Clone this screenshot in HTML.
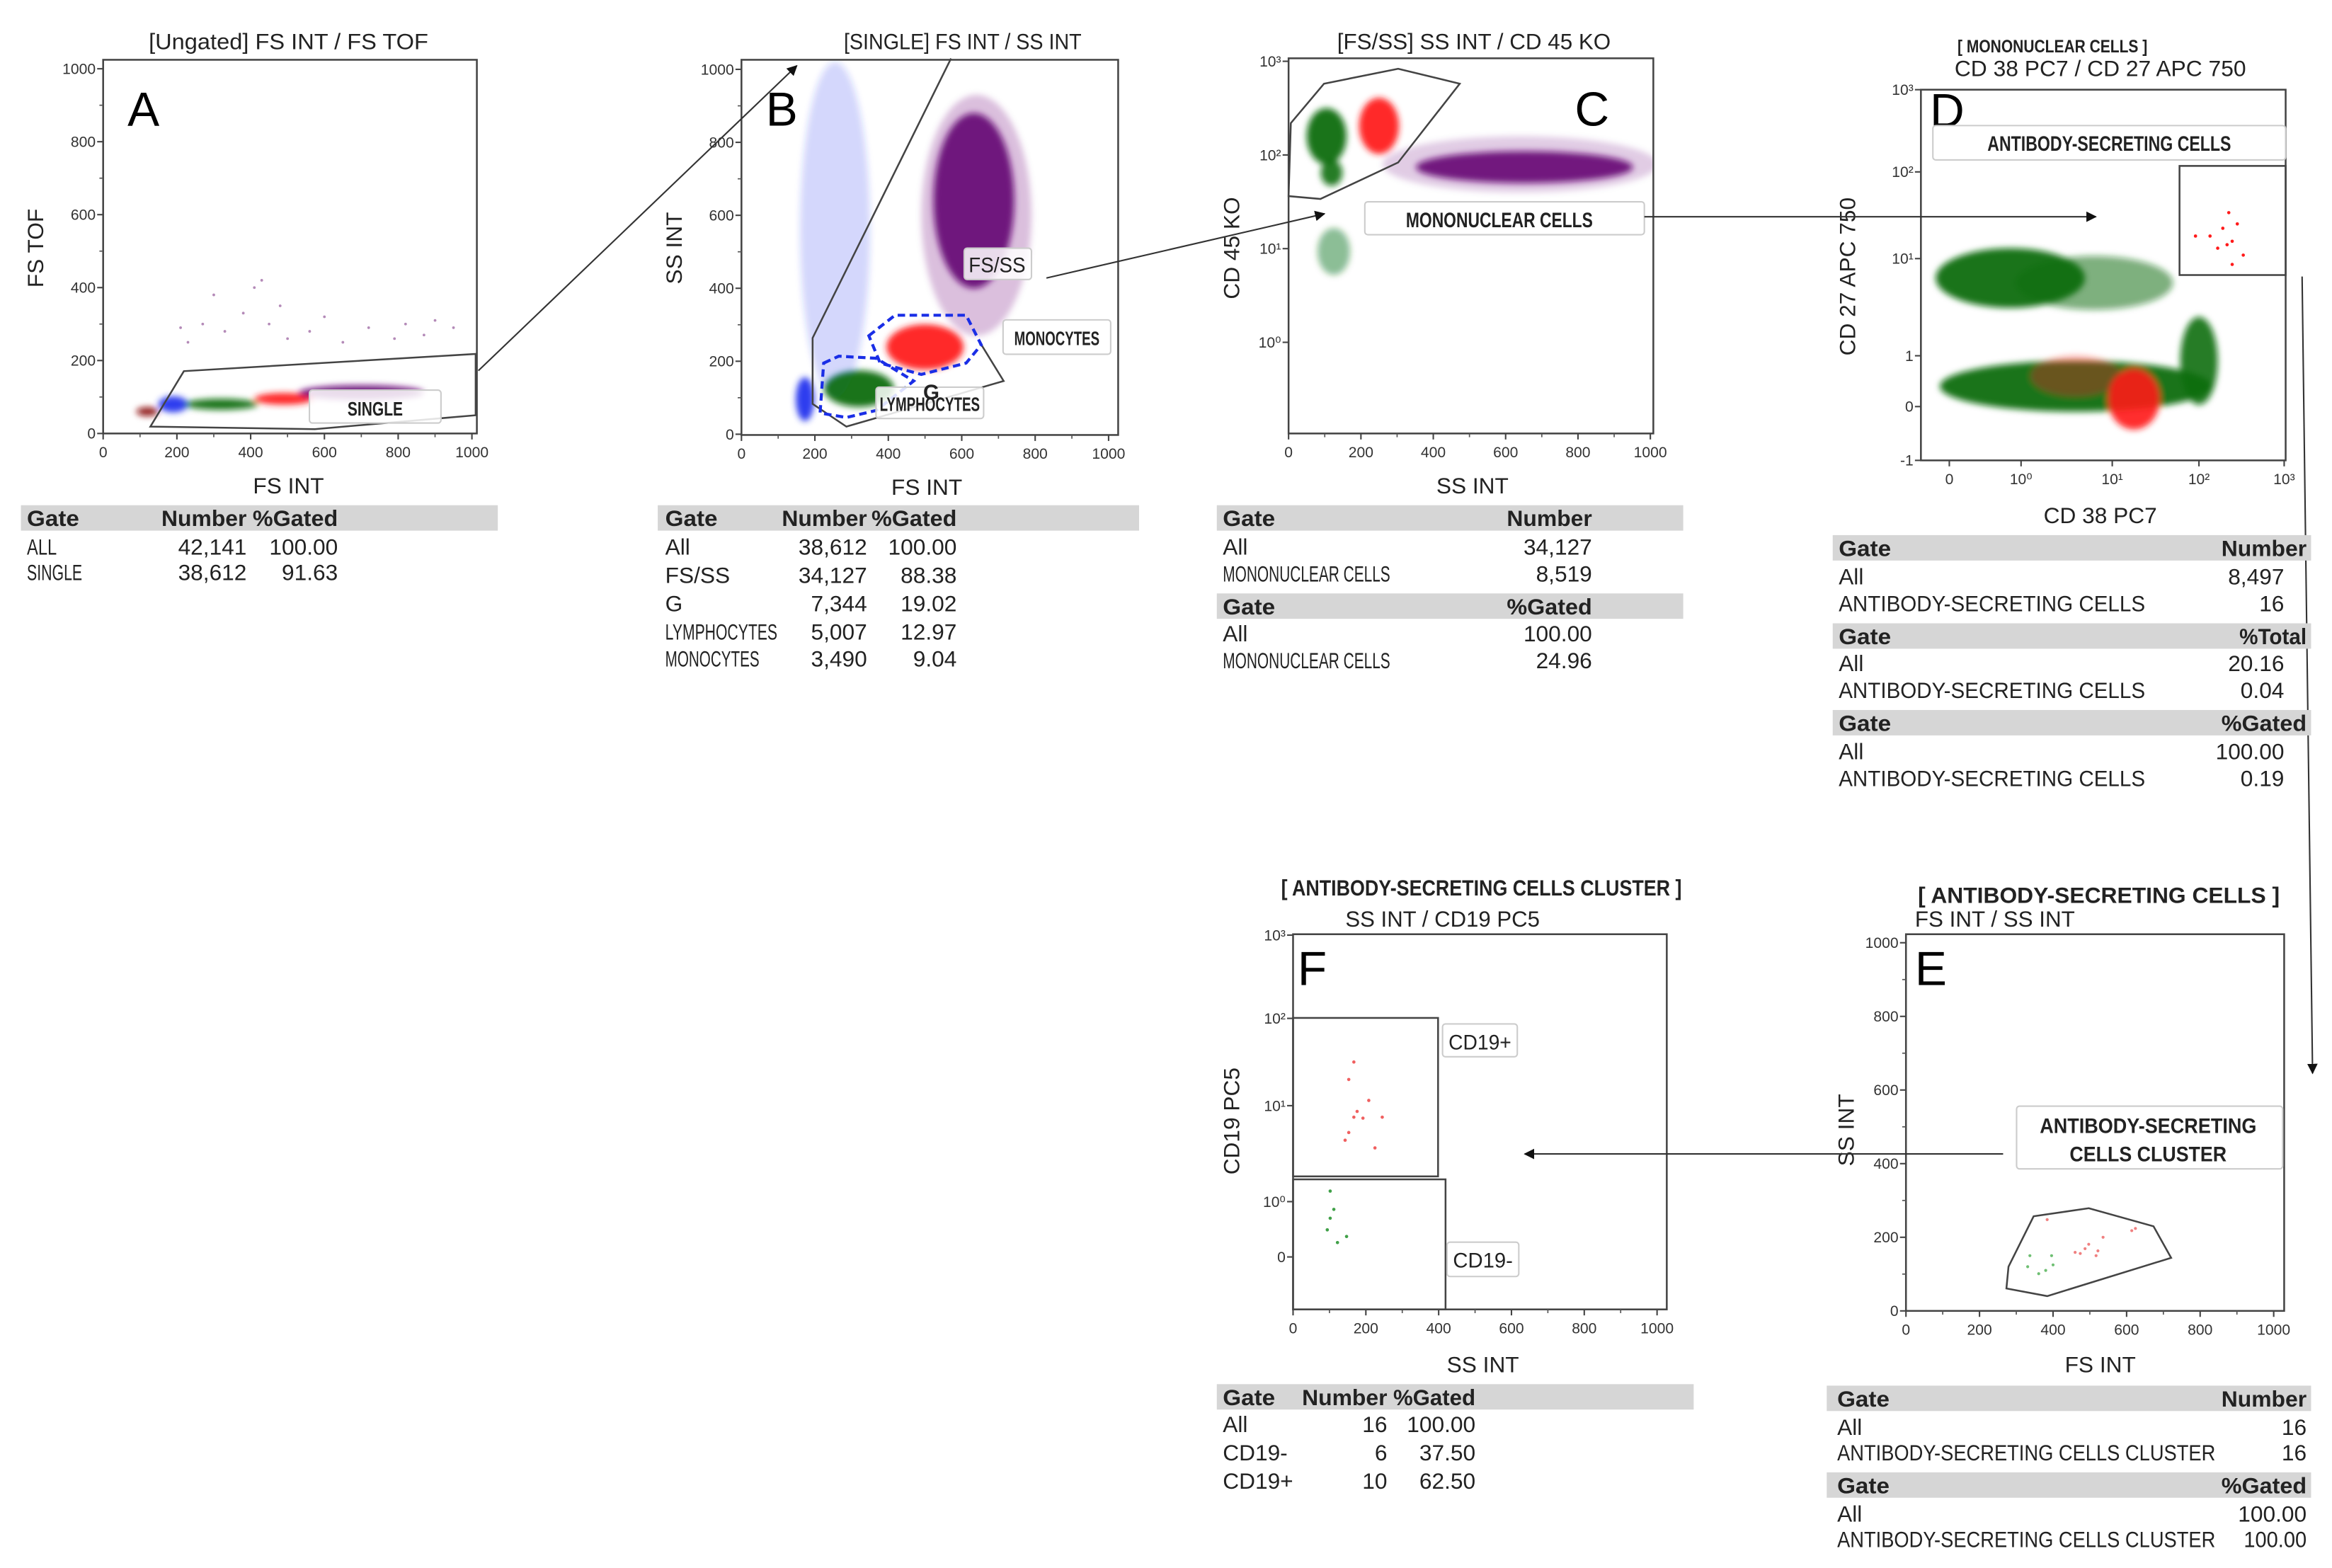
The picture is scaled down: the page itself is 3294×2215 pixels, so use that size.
<!DOCTYPE html>
<html><head><meta charset="utf-8"><title>Flow cytometry gating</title>
<style>
html,body{margin:0;padding:0;background:#fff;}
svg{display:block;}
text{font-family:"Liberation Sans Narrow","Liberation Sans",sans-serif;fill:#222;}
.t{font-size:15px;}
.h{font-size:15px;font-weight:bold;}
.tk{font-size:10px;fill:#333;}
.ax{font-size:15px;}
.ttl{font-size:15px;}
.let{font-size:32px;fill:#000;}
.lbl{font-size:13px;font-weight:bold;}
</style></head>
<body>
<svg id="fig" width="3294" height="2215" viewBox="0 0 1560 1049" preserveAspectRatio="none" xmlns="http://www.w3.org/2000/svg">
<defs>
<filter id="blur" x="-50%" y="-50%" width="200%" height="200%"><feGaussianBlur stdDeviation="2.2"/></filter>
<marker id="arr" viewBox="0 0 10 10" refX="9" refY="5" markerWidth="7" markerHeight="7" orient="auto"><path d="M0,0L10,5L0,10z" fill="#111"/></marker>
<clipPath id="clipA"><rect x="69" y="40" width="250" height="250"/></clipPath>
<clipPath id="clipB"><rect x="496" y="40" width="252" height="251"/></clipPath>
<clipPath id="clipC"><rect x="862" y="39" width="244" height="251"/></clipPath>
<clipPath id="clipD"><rect x="1285" y="60" width="244" height="248"/></clipPath>
<clipPath id="clipE"><rect x="1275" y="625" width="253" height="252"/></clipPath>
<clipPath id="clipF"><rect x="865" y="625" width="250" height="251"/></clipPath>
</defs>
<g id="marks"></g>

<g fill="none" stroke="#444" stroke-width="1.2">
<rect x="69" y="40" width="250" height="250"/>
<rect x="496" y="40" width="252" height="251"/>
<rect x="862" y="39" width="244" height="251"/>
<rect x="1285" y="60" width="244" height="248"/>
<rect x="1275" y="625" width="253" height="252"/>
<rect x="865" y="625" width="250" height="251"/>
</g>
<g id="axes"></g>
<g id="gates"></g>

<text class="ttl" x="193" y="33" text-anchor="middle" textLength="187" lengthAdjust="spacingAndGlyphs">[Ungated] FS INT / FS TOF</text>
<text class="ttl" x="644" y="33" text-anchor="middle" textLength="159" lengthAdjust="spacingAndGlyphs">[SINGLE] FS INT / SS INT</text>
<text class="ttl" x="986" y="33" text-anchor="middle" textLength="183" lengthAdjust="spacingAndGlyphs">[FS/SS] SS INT / CD 45 KO</text>
<text class="ttl" x="1373" y="35" text-anchor="middle" textLength="127" lengthAdjust="spacingAndGlyphs" style="font-size:12px;font-weight:bold">[ MONONUCLEAR CELLS ]</text>
<text class="ttl" x="1405" y="51" text-anchor="middle" textLength="195" lengthAdjust="spacingAndGlyphs">CD 38 PC7 / CD 27 APC 750</text>
<text class="ttl" x="1283" y="604" textLength="242" lengthAdjust="spacingAndGlyphs" style="font-weight:bold">[ ANTIBODY-SECRETING CELLS ]</text>
<text class="ttl" x="1281" y="620" textLength="107" lengthAdjust="spacingAndGlyphs">FS INT / SS INT</text>
<text class="ttl" x="991" y="599" text-anchor="middle" textLength="268" lengthAdjust="spacingAndGlyphs" style="font-weight:bold">[ ANTIBODY-SECRETING CELLS CLUSTER ]</text>
<text class="ttl" x="965" y="620" text-anchor="middle" textLength="130" lengthAdjust="spacingAndGlyphs">SS INT / CD19 PC5</text>

<text class="ax" x="193" y="330" text-anchor="middle">FS INT</text>
<text class="ax" transform="translate(29,166) rotate(-90)" text-anchor="middle">FS TOF</text>
<text class="ax" x="620" y="331" text-anchor="middle">FS INT</text>
<text class="ax" transform="translate(456,166) rotate(-90)" text-anchor="middle">SS INT</text>
<text class="ax" x="985" y="330" text-anchor="middle">SS INT</text>
<text class="ax" transform="translate(829,166) rotate(-90)" text-anchor="middle">CD 45 KO</text>
<text class="ax" x="1405" y="350" text-anchor="middle">CD 38 PC7</text>
<text class="ax" transform="translate(1241,185) rotate(-90)" text-anchor="middle">CD 27 APC 750</text>
<text class="ax" x="1405" y="918" text-anchor="middle">FS INT</text>
<text class="ax" transform="translate(1240,756) rotate(-90)" text-anchor="middle">SS INT</text>
<text class="ax" x="992" y="918" text-anchor="middle">SS INT</text>
<text class="ax" transform="translate(829,750) rotate(-90)" text-anchor="middle">CD19 PC5</text>

<text class="let" x="96" y="84" text-anchor="middle">A</text>
<text class="let" x="523" y="84" text-anchor="middle">B</text>
<text class="let" x="1065" y="84" text-anchor="middle">C</text>
<text class="let" x="1291" y="85">D</text>
<text class="let" x="1281" y="659">E</text>
<text class="let" x="868" y="659">F</text>

<g>
<rect x="207" y="261" width="88" height="22" fill="#fff" fill-opacity="0.85" stroke="#ccc" rx="2"/>
<text class="lbl" x="251" y="278" text-anchor="middle" textLength="37" lengthAdjust="spacingAndGlyphs">SINGLE</text>
<rect x="645" y="166" width="45" height="21" fill="#fff" fill-opacity="0.85" stroke="#ccc" rx="2"/>
<text class="lbl" x="667" y="182" text-anchor="middle" textLength="38" lengthAdjust="spacingAndGlyphs" style="font-weight:normal;font-size:14px">FS/SS</text>
<rect x="671" y="214" width="72" height="23" fill="#fff" stroke="#ccc" rx="2"/>
<text class="lbl" x="707" y="231" text-anchor="middle" textLength="57" lengthAdjust="spacingAndGlyphs">MONOCYTES</text>
<rect x="586" y="259" width="72" height="21" fill="#fff" fill-opacity="0.85" stroke="#ccc" rx="2"/>
<text class="lbl" x="622" y="275" text-anchor="middle" textLength="67" lengthAdjust="spacingAndGlyphs">LYMPHOCYTES</text>
<text class="lbl" x="623" y="267" text-anchor="middle" style="font-size:14px">G</text>
<rect x="913" y="135" width="187" height="22" fill="#fff" stroke="#ccc" rx="2"/>
<text class="lbl" x="1003" y="152" text-anchor="middle" textLength="125" lengthAdjust="spacingAndGlyphs" style="font-size:14px">MONONUCLEAR CELLS</text>
<rect x="1293" y="84" width="236" height="23" fill="#fff" stroke="#ccc" rx="2"/>
<text class="lbl" x="1411" y="101" text-anchor="middle" textLength="163" lengthAdjust="spacingAndGlyphs" style="font-size:14px">ANTIBODY-SECRETING CELLS</text>
<rect x="1349" y="740" width="178" height="42" fill="#fff" stroke="#ccc" rx="2"/>
<text class="lbl" x="1437" y="758" text-anchor="middle" textLength="145" lengthAdjust="spacingAndGlyphs" style="font-size:14px">ANTIBODY-SECRETING</text>
<text class="lbl" x="1437" y="777" text-anchor="middle" textLength="105" lengthAdjust="spacingAndGlyphs" style="font-size:14px">CELLS CLUSTER</text>
<rect x="965" y="685" width="50" height="22" fill="#fff" stroke="#ccc" rx="2"/>
<text x="990" y="702" text-anchor="middle" style="font-size:14px" textLength="42" lengthAdjust="spacingAndGlyphs">CD19+</text>
<rect x="968" y="831" width="48" height="23" fill="#fff" stroke="#ccc" rx="2"/>
<text x="992" y="848" text-anchor="middle" style="font-size:14px" textLength="40" lengthAdjust="spacingAndGlyphs">CD19-</text>
</g>

<g stroke="#333" stroke-width="1" fill="none">
<line x1="320" y1="248" x2="533" y2="44" marker-end="url(#arr)"/>
<line x1="700" y1="186" x2="886" y2="143" marker-end="url(#arr)"/>
<line x1="1100" y1="145" x2="1402" y2="145" marker-end="url(#arr)"/>
<line x1="1540" y1="185" x2="1547" y2="718" marker-end="url(#arr)"/>
<line x1="1340" y1="772" x2="1020" y2="772" marker-end="url(#arr)"/>
</g>

<g fill="#d6d6d6">
<rect x="14" y="338" width="319" height="17"/>
<rect x="440" y="338" width="322" height="17"/>
<rect x="814" y="338" width="312" height="17"/><rect x="814" y="397" width="312" height="17"/>
<rect x="1226" y="358" width="320" height="17"/><rect x="1226" y="417" width="320" height="17"/><rect x="1226" y="475" width="320" height="17"/>
<rect x="1222" y="927" width="324" height="17"/><rect x="1222" y="985" width="324" height="17"/>
<rect x="814" y="926" width="319" height="17"/>
</g>
<g>
<text class="h" x="18" y="352" textLength="35" lengthAdjust="spacingAndGlyphs">Gate</text><text class="h" x="165" y="352" text-anchor="end" textLength="57" lengthAdjust="spacingAndGlyphs">Number</text><text class="h" x="226" y="352" text-anchor="end" textLength="57" lengthAdjust="spacingAndGlyphs">%Gated</text>
<text class="t" x="18" y="371" textLength="20" lengthAdjust="spacingAndGlyphs">ALL</text><text class="t" x="165" y="371" text-anchor="end">42,141</text><text class="t" x="226" y="371" text-anchor="end">100.00</text>
<text class="t" x="18" y="388" textLength="37" lengthAdjust="spacingAndGlyphs">SINGLE</text><text class="t" x="165" y="388" text-anchor="end">38,612</text><text class="t" x="226" y="388" text-anchor="end">91.63</text>
</g>
<g>
<text class="h" x="445" y="352" textLength="35" lengthAdjust="spacingAndGlyphs">Gate</text><text class="h" x="580" y="352" text-anchor="end" textLength="57" lengthAdjust="spacingAndGlyphs">Number</text><text class="h" x="640" y="352" text-anchor="end" textLength="57" lengthAdjust="spacingAndGlyphs">%Gated</text>
<text class="t" x="445" y="371">All</text><text class="t" x="580" y="371" text-anchor="end">38,612</text><text class="t" x="640" y="371" text-anchor="end">100.00</text>
<text class="t" x="445" y="390">FS/SS</text><text class="t" x="580" y="390" text-anchor="end">34,127</text><text class="t" x="640" y="390" text-anchor="end">88.38</text>
<text class="t" x="445" y="409">G</text><text class="t" x="580" y="409" text-anchor="end">7,344</text><text class="t" x="640" y="409" text-anchor="end">19.02</text>
<text class="t" x="445" y="428" textLength="75" lengthAdjust="spacingAndGlyphs">LYMPHOCYTES</text><text class="t" x="580" y="428" text-anchor="end">5,007</text><text class="t" x="640" y="428" text-anchor="end">12.97</text>
<text class="t" x="445" y="446" textLength="63" lengthAdjust="spacingAndGlyphs">MONOCYTES</text><text class="t" x="580" y="446" text-anchor="end">3,490</text><text class="t" x="640" y="446" text-anchor="end">9.04</text>
</g>
<g>
<text class="h" x="818" y="352" textLength="35" lengthAdjust="spacingAndGlyphs">Gate</text><text class="h" x="1065" y="352" text-anchor="end" textLength="57" lengthAdjust="spacingAndGlyphs">Number</text>
<text class="t" x="818" y="371">All</text><text class="t" x="1065" y="371" text-anchor="end">34,127</text>
<text class="t" x="818" y="389" textLength="112" lengthAdjust="spacingAndGlyphs">MONONUCLEAR CELLS</text><text class="t" x="1065" y="389" text-anchor="end">8,519</text>
<text class="h" x="818" y="411" textLength="35" lengthAdjust="spacingAndGlyphs">Gate</text><text class="h" x="1065" y="411" text-anchor="end" textLength="57" lengthAdjust="spacingAndGlyphs">%Gated</text>
<text class="t" x="818" y="429">All</text><text class="t" x="1065" y="429" text-anchor="end">100.00</text>
<text class="t" x="818" y="447" textLength="112" lengthAdjust="spacingAndGlyphs">MONONUCLEAR CELLS</text><text class="t" x="1065" y="447" text-anchor="end">24.96</text>
</g>
<g>
<text class="h" x="1230" y="372" textLength="35" lengthAdjust="spacingAndGlyphs">Gate</text><text class="h" x="1543" y="372" text-anchor="end" textLength="57" lengthAdjust="spacingAndGlyphs">Number</text>
<text class="t" x="1230" y="391">All</text><text class="t" x="1528" y="391" text-anchor="end">8,497</text>
<text class="t" x="1230" y="409" textLength="205" lengthAdjust="spacingAndGlyphs">ANTIBODY-SECRETING CELLS</text><text class="t" x="1528" y="409" text-anchor="end">16</text>
<text class="h" x="1230" y="431" textLength="35" lengthAdjust="spacingAndGlyphs">Gate</text><text class="h" x="1543" y="431" text-anchor="end" textLength="45" lengthAdjust="spacingAndGlyphs">%Total</text>
<text class="t" x="1230" y="449">All</text><text class="t" x="1528" y="449" text-anchor="end">20.16</text>
<text class="t" x="1230" y="467" textLength="205" lengthAdjust="spacingAndGlyphs">ANTIBODY-SECRETING CELLS</text><text class="t" x="1528" y="467" text-anchor="end">0.04</text>
<text class="h" x="1230" y="489" textLength="35" lengthAdjust="spacingAndGlyphs">Gate</text><text class="h" x="1543" y="489" text-anchor="end" textLength="57" lengthAdjust="spacingAndGlyphs">%Gated</text>
<text class="t" x="1230" y="508">All</text><text class="t" x="1528" y="508" text-anchor="end">100.00</text>
<text class="t" x="1230" y="526" textLength="205" lengthAdjust="spacingAndGlyphs">ANTIBODY-SECRETING CELLS</text><text class="t" x="1528" y="526" text-anchor="end">0.19</text>
</g>
<g>
<text class="h" x="1229" y="941" textLength="35" lengthAdjust="spacingAndGlyphs">Gate</text><text class="h" x="1543" y="941" text-anchor="end" textLength="57" lengthAdjust="spacingAndGlyphs">Number</text>
<text class="t" x="1229" y="960">All</text><text class="t" x="1543" y="960" text-anchor="end">16</text>
<text class="t" x="1229" y="977" textLength="253" lengthAdjust="spacingAndGlyphs">ANTIBODY-SECRETING CELLS CLUSTER</text><text class="t" x="1543" y="977" text-anchor="end">16</text>
<text class="h" x="1229" y="999" textLength="35" lengthAdjust="spacingAndGlyphs">Gate</text><text class="h" x="1543" y="999" text-anchor="end" textLength="57" lengthAdjust="spacingAndGlyphs">%Gated</text>
<text class="t" x="1229" y="1018">All</text><text class="t" x="1543" y="1018" text-anchor="end">100.00</text>
<text class="t" x="1229" y="1035" textLength="253" lengthAdjust="spacingAndGlyphs">ANTIBODY-SECRETING CELLS CLUSTER</text><text class="t" x="1543" y="1035" text-anchor="end" textLength="42" lengthAdjust="spacingAndGlyphs">100.00</text>
</g>
<g>
<text class="h" x="818" y="940" textLength="35" lengthAdjust="spacingAndGlyphs">Gate</text><text class="h" x="928" y="940" text-anchor="end" textLength="57" lengthAdjust="spacingAndGlyphs">Number</text><text class="h" x="987" y="940" text-anchor="end" textLength="55" lengthAdjust="spacingAndGlyphs">%Gated</text>
<text class="t" x="818" y="958">All</text><text class="t" x="928" y="958" text-anchor="end">16</text><text class="t" x="987" y="958" text-anchor="end">100.00</text>
<text class="t" x="818" y="977">CD19-</text><text class="t" x="928" y="977" text-anchor="end">6</text><text class="t" x="987" y="977" text-anchor="end">37.50</text>
<text class="t" x="818" y="996">CD19+</text><text class="t" x="928" y="996" text-anchor="end">10</text><text class="t" x="987" y="996" text-anchor="end">62.50</text>
</g>
</svg>
<script>
// ---------- data ----------
const linTicks = [0,200,400,600,800,1000];
const cTickLabels = ['10⁰','10¹','10²','10³'];
const dXTickLabels = ['0','10⁰','10¹','10²','10³'];
const dYTickLabels = ['-1','0','1','10¹','10²','10³'];
const fYTickLabels = ['0','10⁰','10¹','10²','10³'];

const aPop = ['debris','blue','green','red','purple'];
const aCx = [120,190,320,490,700];
const aCy = [60,80,80,95,112];
const aSx = [30,40,100,80,170];
const aSy = [12,22,15,16,20];
const aSparseX = [210,230,270,300,330,380,410,430,450,480,500,560,600,650,720,790,820,870,900,950];
const aSparseY = [290,250,300,380,280,330,400,420,300,350,260,280,320,250,290,260,300,270,310,290];

const bPop = ['blue','blue','purple','purple','red','green'];
const bCx = [255,173,640,633,500,320];
const bCy = [560,96,600,640,239,125];
const bSx = [95,25,150,110,105,95];
const bSy = [460,60,330,240,62,50];
const bOp = [0.2,0.95,0.25,0.95,0.95,0.95];

const cPop = ['purple','purple','green','green','red','green'];
const cCx = [640,652,105,119,250,125];
const cCy = [1.9,1.87,2.2,1.81,2.31,0.97];
const cSx = [380,300,55,30,55,45];
const cSy = [0.3,0.17,0.3,0.14,0.3,0.25];
const cOp = [0.2,0.95,0.95,0.9,0.95,0.45];

const dPop = ['green','green','green','green','red','red'];
const dCx = [0.85,1.8,1.6,3.0,2.25,1.6];
const dCy = [2.8,2.75,1.4,1.9,1.15,1.6];
const dSx = [0.85,0.9,1.55,0.22,0.3,0.5];
const dSy = [0.32,0.28,0.5,0.5,0.6,0.4];
const dOp = [0.95,0.55,0.95,0.9,0.9,0.35];
const dGateX = [3.35,3.28,3.39,3.22,3.52,3.39,2.96,3.13,3.33,3.45];
const dGateY = [3.53,3.35,3.2,3.12,3.04,2.94,3.26,3.26,3.16,3.4];

const eGreenX = [337,361,396,331,400,380];
const eGreenY = [150,101,150,120,125,110];
const eRedX = [384,474,497,522,536,614,624,517,487,460];
const eRedY = [248,156,181,163,200,218,224,150,169,159];
const eGateX = [273,279,347,497,673,721,384];
const eGateY = [61,120,257,279,230,144,40];

const fPosX = [167,153,208,176,167,192,245,153,225,143];
const fPosY = [2.5,2.3,2.06,1.94,1.88,1.87,1.88,1.72,1.56,1.64];
const fNegX = [102,112,102,94,122,147];
const fNegY = [1.11,0.86,0.70,0.49,0.26,0.37];

const aGateX = [128,219,1010,1010,574];
const aGateY = [19,171,218,50,12];
const bFsGateX = [571,194,194,286,714,653];
const bFsGateY = [1030,264,83,21,146,246];
const bMonoX = [347,418,612,653,612,490,378];
const bMonoY = [270,326,326,245,195,164,195];
const bLymX = [224,265,367,469,367,286,214];
const bLymY = [195,214,208,146,65,46,58];
const cGateX = [6,98,303,473,303,88,0];
const cGateY = [2.34,2.76,2.92,2.76,1.92,1.53,1.56];

// ---------- scales ----------
const COL = {debris:'#8b1010',blue:'#2233ee',green:'#0d6e12',red:'#ff1a1a',purple:'#6a0a78'};
function lin(d0,d1,p0,p1){return v=>p0+(v-d0)*(p1-p0)/(d1-d0);}
function pw(px){return v=>{let i=Math.max(0,Math.min(px.length-2,Math.floor(v)));return px[i]+(v-i)*(px[i+1]-px[i]);};}
const P = {
 A:{x:lin(0,1000,69,315.7),y:lin(0,1000,290,46),clip:'clipA',l:69,b:290},
 B:{x:lin(0,1000,496,741.6),y:lin(0,1000,290.5,46.4),clip:'clipB',l:496,b:291},
 C:{x:lin(0,1000,862,1104),y:lin(0,3,229,41),clip:'clipC',l:862,b:290},
 D:{x:pw([1304,1352,1413,1471,1528]),y:pw([308,272,238,173,115,60]),clip:'clipD',l:1285,b:308},
 E:{x:lin(0,1000,1275,1521),y:lin(0,1000,877,630.7),clip:'clipE',l:1275,b:877},
 F:{x:lin(0,1000,865,1108.5),y:pw([840.9,803.9,739.7,681.3,625.6]),clip:'clipF',l:865,b:876}
};
const NS='http://www.w3.org/2000/svg';
function mk(tag,attrs,parent){const e=document.createElementNS(NS,tag);for(const k in attrs)e.setAttribute(k,attrs[k]);parent.appendChild(e);return e;}
const marks=document.getElementById('marks'), axes=document.getElementById('axes'), gates=document.getElementById('gates');

function clusters(p,name,pop,cx,cy,sx,sy,op){
  const g=mk('g',{'clip-path':'url(#'+p.clip+')',filter:'url(#blur)'},marks);
  
  
  for(let i=0;i<cx.length;i++){
    const X=p.x(cx[i]),Y=p.y(cy[i]);
    const rx=Math.abs(p.x(cx[i]+sx[i])-X), ry=Math.abs(p.y(cy[i]+sy[i])-Y);
    const e=mk('ellipse',{cx:X,cy:Y,rx:rx,ry:ry,fill:COL[pop[i]],'fill-opacity':op?op[i]:0.95},g);
    
    
  }
}
function points(p,name,xs,ys,color,r){
  const g=mk('g',{'clip-path':'url(#'+p.clip+')'},marks);
  
  
  for(let i=0;i<xs.length;i++){
    const c=mk('circle',{cx:p.x(xs[i]),cy:p.y(ys[i]),r:r,fill:color},g);
    
    
  }
}
function poly(p,name,xs,ys,opts){
  const pts=xs.map((x,i)=>p.x(x).toFixed(1)+','+p.y(ys[i]).toFixed(1)).join(' ');
  const e=mk(opts.open?'polyline':'polygon',{points:pts,fill:'none',stroke:opts.stroke||'#444','stroke-width':opts.w||1.2,'stroke-dasharray':opts.dash||'none'},gates);
  
  
}
function xTicks(p,vals,labels,name){
  vals.forEach((v,i)=>{
    const X=p.x(v);
    mk('line',{x1:X,x2:X,y1:p.b,y2:p.b+4,stroke:'#444','stroke-width':1},axes);
    const t=mk('text',{x:X,y:p.b+16,'text-anchor':'middle',class:'tk'},axes);
    t.textContent=labels[i];
    
    
  });
}
function yTicks(p,vals,labels,name){
  vals.forEach((v,i)=>{
    const Y=p.y(v);
    mk('line',{x1:p.l-4,x2:p.l,y1:Y,y2:Y,stroke:'#444','stroke-width':1},axes);
    const t=mk('text',{x:p.l-5,y:Y+3.5,'text-anchor':'end',class:'tk'},axes);
    t.textContent=labels[i];
    
    
  });
}
function minor(p,vals,axis){
  vals.forEach(v=>{
    if(axis==='x'){const X=p.x(v);mk('line',{x1:X,x2:X,y1:p.b,y2:p.b+2.5,stroke:'#555','stroke-width':0.8},axes);}
    else{const Y=p.y(v);mk('line',{x1:p.l-2.5,x2:p.l,y1:Y,y2:Y,stroke:'#555','stroke-width':0.8},axes);}
  });
}
const linLabels = linTicks.map(String);
const linMinor = [100,300,500,700,900];

clusters(P.A,'panel-a',aPop,aCx,aCy,aSx,aSy,null);
points(P.A,'panel-a-sparse',aSparseX,aSparseY,'#b48ab8',0.9);
poly(P.A,'single-gate',aGateX,aGateY,{});
['A','B','E'].forEach(k=>{xTicks(P[k],linTicks,linLabels,'panel-'+k.toLowerCase());yTicks(P[k],linTicks,linLabels,'panel-'+k.toLowerCase());minor(P[k],linMinor,'x');minor(P[k],linMinor,'y');});
clusters(P.B,'panel-b',bPop,bCx,bCy,bSx,bSy,bOp);
poly(P.B,'fs-ss-gate',bFsGateX,bFsGateY,{open:true});
poly(P.B,'monocytes-gate',bMonoX,bMonoY,{stroke:'#1a2ee6',w:2,dash:'5,3'});
poly(P.B,'lymphocytes-gate',bLymX,bLymY,{stroke:'#1a2ee6',w:2,dash:'5,3'});
clusters(P.C,'panel-c',cPop,cCx,cCy,cSx,cSy,cOp);
poly(P.C,'mononuclear-gate',cGateX,cGateY,{});
xTicks(P.C,linTicks,linLabels,'panel-c');minor(P.C,linMinor,'x');
yTicks(P.C,[0,1,2,3],cTickLabels,'panel-c');
clusters(P.D,'panel-d',dPop,dCx,dCy,dSx,dSy,dOp);
points(P.D,'asc-gate-points',dGateX,dGateY,COL.red,1.1);
xTicks(P.D,[0,1,2,3,4],dXTickLabels,'panel-d');
yTicks(P.D,[0,1,2,3,4,5],dYTickLabels,'panel-d');
{const g=mk('rect',{x:1458,y:111,width:71,height:73,fill:'none',stroke:'#444','stroke-width':1.2},gates);
 
 }
points(P.E,'panel-e-cd19neg-points',eGreenX,eGreenY,'#6fbf73',1);
points(P.E,'panel-e-cd19pos-points',eRedX,eRedY,'#f08080',1);
poly(P.E,'asc-cluster-gate',eGateX,eGateY,{});
points(P.F,'cd19-pos-points',fPosX,fPosY,'#f06060',1.1);
points(P.F,'cd19-neg-points',fNegX,fNegY,'#40a048',1.1);
xTicks(P.F,linTicks,linLabels,'panel-f');minor(P.F,linMinor,'x');
yTicks(P.F,[0,1,2,3,4],fYTickLabels,'panel-f');
{const a=mk('rect',{x:865,y:681,width:97,height:106,fill:'none',stroke:'#444','stroke-width':1.2},gates);
 
 
 const b=mk('rect',{x:865,y:789,width:102,height:87,fill:'none',stroke:'#444','stroke-width':1.2},gates);
 
 }
</script>
</body></html>
